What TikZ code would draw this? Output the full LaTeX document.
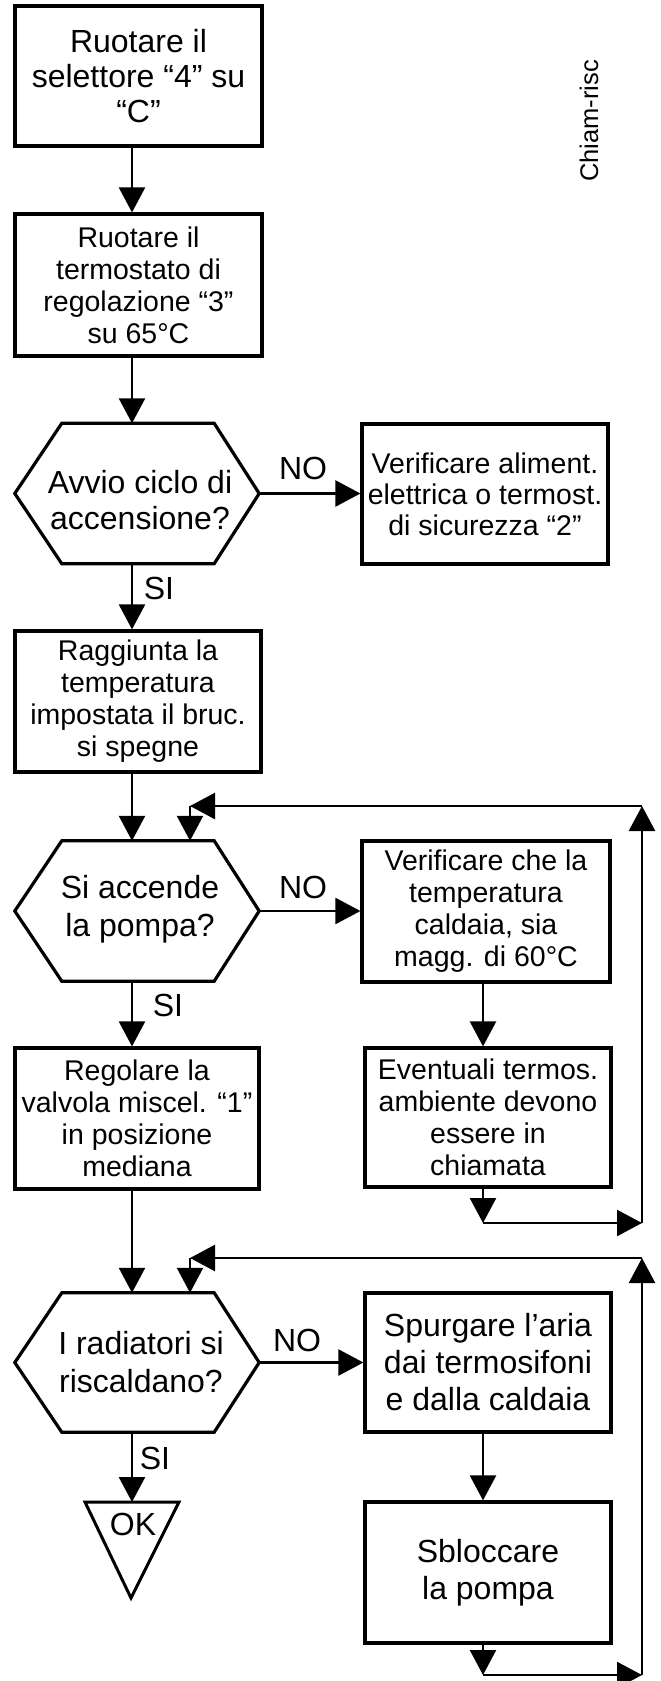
\documentclass[tikz,border=0pt]{standalone}
\usepackage{fontspec}
\setmainfont{Liberation Sans}
\usetikzlibrary{arrows.meta,calc}
\newcommand\hexframe[1]{\draw[boxline] (#1.west) -- ([xshift=47pt]#1.north west) -- ([xshift=-45pt]#1.north east) -- (#1.east) -- ([xshift=-45pt]#1.south east) -- ([xshift=47pt]#1.south west) -- cycle;}
\begin{document}
\begin{tikzpicture}[x=1pt,y=-1pt,
  boxline/.style={draw=black, line width=3.2pt},
  big/.style={font=\fontsize{32}{37}\selectfont},
  small/.style={font=\fontsize{28.5}{32}\selectfont},
  procbox/.style={boxline, rectangle, inner sep=0pt, align=center},
  hexshape/.style={rectangle, inner sep=0pt, minimum width=244pt},
  hextext/.style={big, inner sep=0pt, align=center},
  conn/.style={line width=2.4pt, -{Triangle[width=26pt,length=25pt]}},
  lbl/.style={font=\fontsize{32}{37}\selectfont, inner sep=0pt},
]
\useasboundingbox (0,0) rectangle (661,1681);

% helper coordinates
\coordinate (tr) at (132,0);
\coordinate (rt) at (483,0);

% left column
\node[procbox, font=\fontsize{32}{35}\selectfont, minimum width=247pt, minimum height=140pt] (b1) at (138.5,76) {Ruotare il\\selettore “4” su\\“C”};
\node[procbox, small, minimum width=247pt, minimum height=142pt] (b2) at (138.5,285) {Ruotare il\\termostato di\\regolazione “3”\\su 65°C};
\node[hexshape, minimum height=140pt] (h1) at (137,493.5) {};
\hexframe{h1}
\node[hextext, font=\fontsize{32}{36}\selectfont] (h1t) at (140,500) {Avvio ciclo di\\accensione?};
\node[procbox, small, minimum width=246pt, minimum height=141pt] (b4) at (138,701.5) {Raggiunta la\\temperatura\\impostata il bruc.\\si spegne};
\node[hexshape, minimum height=140pt] (h2) at (137,911) {};
\hexframe{h2}
\node[hextext, font=\fontsize{32}{38}\selectfont] (h2t) at (140,909) {Si accende\\la pompa?};
\node[procbox, small, minimum width=244pt, minimum height=141pt] (b6) at (137,1118.5) {Regolare la\\valvola miscel. “1”\\in posizione\\mediana};
\node[hexshape, minimum height=139pt] (h3) at (137,1362.5) {};
\hexframe{h3}
\node[hextext, font=\fontsize{32}{38}\selectfont] (h3t) at (141,1362) {I radiatori si\\riscaldano?};

% OK triangle
\coordinate (okt) at (132,1502);
\coordinate (okapex) at (131,1598);
\draw[boxline, line width=3pt] ([xshift=-47pt]okt) -- ([xshift=47pt]okt) -- (okapex) -- cycle;
\node[lbl] (ok) at (133,1524) {OK};

% right column
\node[procbox, font=\fontsize{28.5}{31}\selectfont, minimum width=246pt, minimum height=140pt] (b3) at (485,494) {Verificare aliment.\\elettrica o termost.\\di sicurezza “2”};
\node[procbox, small, minimum width=248pt, minimum height=141pt] (b5) at (486,911.5) {Verificare che la\\temperatura\\caldaia, sia\\magg. di 60°C};
\node[procbox, small, minimum width=246pt, minimum height=139pt] (b7) at (488,1117.5) {Eventuali termos.\\ambiente devono\\essere in\\chiamata};
\node[procbox, big, minimum width=246pt, minimum height=139pt] (b8) at (488,1362.5) {Spurgare l’aria\\dai termosifoni\\e dalla caldaia};
\node[procbox, big, minimum width=246pt, minimum height=141pt] (b9) at (488,1572.5) {Sbloccare\\la pompa};

% side tag
\node[font=\fontsize{25.5}{30}\selectfont, rotate=90, inner sep=0pt] (tag) at (589,121) {Chiam-risc};

% labels
\node[lbl] (no1) at (303,468) {NO};
\node[lbl] (no2) at (303,887) {NO};
\node[lbl] (no3) at (297,1340) {NO};
\node[lbl] (si1) at (159,588) {SI};
\node[lbl] (si2) at (168,1005) {SI};
\node[lbl] (si3) at (155,1458) {SI};

% main connectors
\draw[conn] (b1.south -| tr) -- (b2.north -| tr);
\draw[conn] (b2.south -| tr) -- (h1.north -| tr);
\draw[conn] (h1.east) -- (b3.west |- h1.east);
\draw[conn] (h1.south -| tr) -- (b4.north -| tr);
\draw[conn] (b4.south -| tr) -- (h2.north -| tr);
\draw[conn] (h2.east) -- (b5.west |- h2.east);
\draw[conn] (h2.south -| tr) -- (b6.north -| tr);
\draw[conn] (b5.south -| rt) -- (b7.north -| rt);
\draw[conn] (b6.south -| tr) -- (h3.north -| tr);
\draw[conn] (h3.east) -- (b8.west |- h3.east);
\draw[conn] (b8.south -| rt) -- (b9.north -| rt);
\draw[conn] (h3.south -| tr) -- (okt);

% loop 1
\coordinate (la) at (483,1223);
\coordinate (lb) at (642,1223);
\coordinate (lc) at (642,806);
\coordinate (ld) at (190,806);
\draw[conn] (b7.south -| la) -- (la);
\draw[conn] (la) -- (lb);
\draw[conn] (lb) -- (lc);
\draw[conn] (lc) -- (ld);
\draw[conn] (ld) -- (h2.north -| ld);

% loop 2
\coordinate (ma) at (483,1675);
\coordinate (mb) at (642,1675);
\coordinate (mc) at (642,1258);
\coordinate (md) at (190,1258);
\draw[conn] (b9.south -| ma) -- (ma);
\draw[conn] (ma) -- (mb);
\draw[conn] (mb) -- (mc);
\draw[conn] (mc) -- (md);
\draw[conn] (md) -- (h3.north -| md);
\end{tikzpicture}
\end{document}
